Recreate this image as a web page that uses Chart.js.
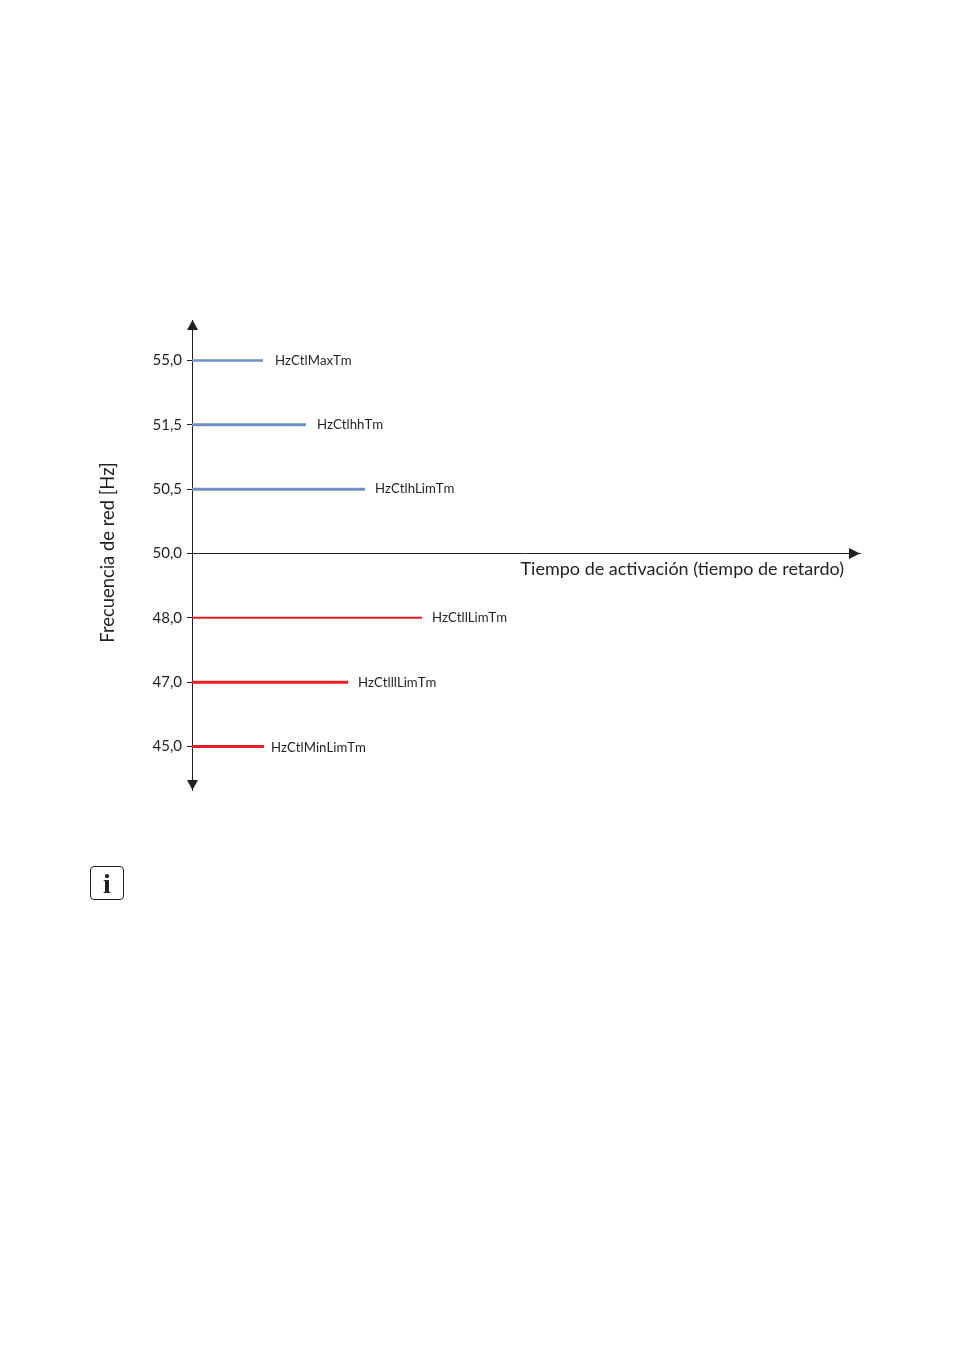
<!DOCTYPE html>
<html lang="es">
<head>
<meta charset="utf-8">
<title>Tiempo de activación</title>
<script src="https://cdn.jsdelivr.net/npm/chart.js@4"></script>
<style>
html,body{margin:0;padding:0;background:#fff;width:954px;height:1351px;overflow:hidden}
#wrap{position:absolute;left:0;top:0;width:954px;height:1351px}
#info{position:absolute;left:90px;top:866px;width:32px;height:32px;border:1.5px solid #231f20;border-radius:4px;
 font:bold 28px/33px "Liberation Serif",serif;color:#231f20;text-align:center}
</style>
</head>
<body>
<div id="wrap"><canvas id="c" width="954" height="1351"></canvas></div>
<div id="info">i</div>
<script>
const FONT = 'Lato, sans-serif';
const INK = '#231f20';
const BLUE = '#6f8fc2';
const RED = '#ed1c24';

const freqLabels = ['55,0', '51,5', '50,5', '50,0', '48,0', '47,0', '45,0'];
const limitRows = [0, 1, 2, 4, 5, 6];
const limitNames = ['HzCtlMaxTm', 'HzCtlhhTm', 'HzCtlhLimTm', 'HzCtllLimTm', 'HzCtlllLimTm', 'HzCtlMinLimTm'];
const limitTimes = [71, 114, 173, 230, 156, 72];
const limitColors = [BLUE, BLUE, BLUE, RED, RED, RED];
const limitWidths = [2.5, 3, 3, 2, 3, 3];
const labelGaps = [12, 11, 10, 10, 10, 7];
const labelNudges = [0, 0, 0, 0, 1, 1];

const yTitle = 'Frecuencia de red [Hz]';
const xTitle = 'Tiempo de activación (tiempo de retardo)';

const datasets = limitNames.map((name, i) => ({
  label: name,
  data: [{x: 0, y: limitRows[i]}, {x: limitTimes[i], y: limitRows[i]}],
  borderColor: limitColors[i],
  borderWidth: limitWidths[i],
  pointRadius: 0,
  showLine: true,
  borderCapStyle: 'butt'
}));

const annotations = {
  id: 'annotations',
  afterDatasetsDraw(chart) {
    const {ctx, scales: {x, y}, chartArea: a} = chart;
    ctx.save();
    ctx.fillStyle = INK;
    const tri = (p) => {
      ctx.beginPath();
      ctx.moveTo(p[0], p[1]); ctx.lineTo(p[2], p[3]); ctx.lineTo(p[4], p[5]);
      ctx.closePath(); ctx.fill();
    };
    const ax = x.getPixelForValue(0) + 0.5;
    const ay = y.getPixelForValue(3);
    tri([ax, a.top, ax - 5.5, a.top + 10, ax + 5.5, a.top + 10]);
    tri([ax, a.bottom, ax - 5.5, a.bottom - 10, ax + 5.5, a.bottom - 10]);
    tri([a.right, ay, a.right - 11, ay - 5.5, a.right - 11, ay + 5.5]);

    ctx.textBaseline = 'middle';
    ctx.textAlign = 'left';
    ctx.fontKerning = 'none';
    ctx.font = '13.2px ' + FONT;
    limitNames.forEach((name, i) => {
      ctx.fillText(name, x.getPixelForValue(limitTimes[i]) + labelGaps[i],
                   y.getPixelForValue(limitRows[i]) + labelNudges[i]);
    });
    ctx.fontKerning = 'auto';
    ctx.textAlign = 'right';
    ctx.font = '18px ' + FONT;
    ctx.fillText(xTitle, 844, ay + 16);

    ctx.translate(108, 552.5);
    ctx.rotate(-Math.PI / 2);
    ctx.textAlign = 'center';
    ctx.font = '18.4px ' + FONT;
    ctx.fillText(yTitle, 0, 0);
    ctx.restore();
  }
};

new Chart(document.getElementById('c'), {
  type: 'scatter',
  data: {datasets},
  plugins: [annotations],
  options: {
    responsive: false,
    animation: false,
    events: [],
    layout: {padding: {left: 96, right: 94, top: 320, bottom: 561}},
    plugins: {legend: {display: false}, tooltip: {enabled: false}},
    scales: {
      x: {
        type: 'linear',
        min: 0,
        max: 668,
        position: {y: 3},
        grid: {display: false},
        ticks: {display: false},
        border: {display: true, color: INK, width: 1}
      },
      y: {
        type: 'linear',
        reverse: true,
        min: -0.63,
        max: 6.676,
        afterFit(s) { s.width = 96; },
        afterBuildTicks(s) { s.ticks = freqLabels.map((_, i) => ({value: i})); },
        grid: {display: true, drawOnChartArea: false, drawTicks: true, tickLength: 5, tickColor: INK, tickWidth: 1},
        border: {display: true, color: INK, width: 1},
        ticks: {
          autoSkip: false,
          padding: 5,
          color: INK,
          font: {family: FONT, size: 15},
          callback: (v) => freqLabels[v]
        }
      }
    }
  }
});
</script>
</body>
</html>
